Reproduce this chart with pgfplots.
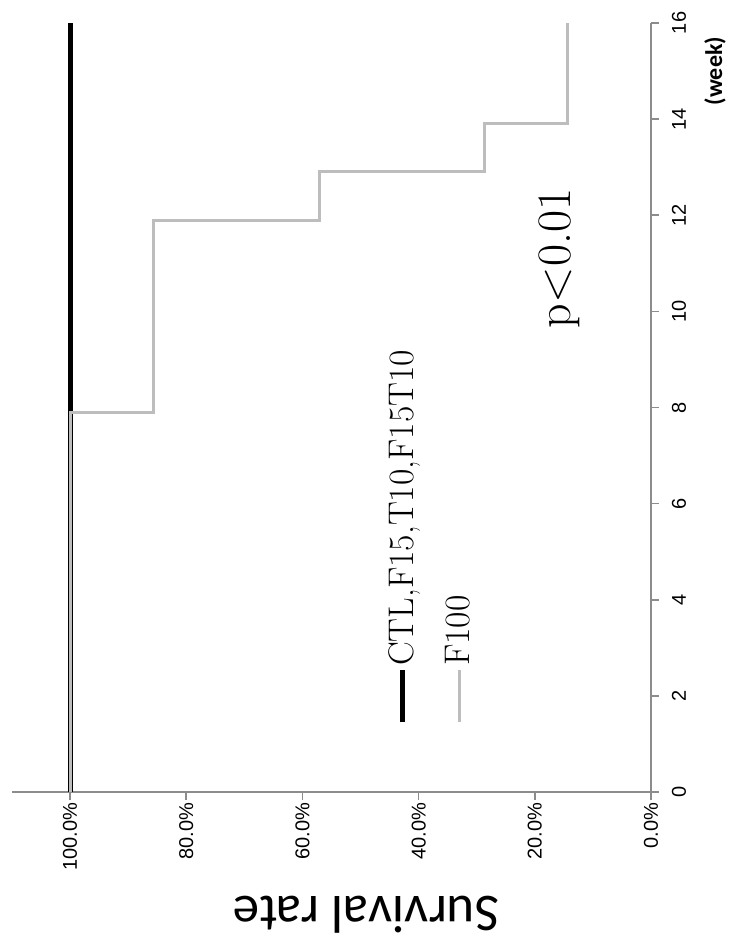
\documentclass[border=0pt]{standalone}
\usepackage{fontspec}
\usepackage{pgfplots}
\pgfplotsset{compat=1.18}
\newfontfamily\arialf{Liberation Sans}
\newfontfamily\calf{Carlito}
\definecolor{axisgray}{HTML}{8C8C8C}
\definecolor{fgray}{HTML}{BDBDBD}
\begin{document}
\begin{tikzpicture}
\begin{scope}[rotate=90, transform shape]
\useasboundingbox (-76.5pt,-40pt) rectangle (396pt,325.5pt);
\begin{axis}[
  at={(0,0)}, anchor=south west,
  scale only axis, width=384.5pt, height=319.5pt,
  xmin=0, xmax=16, ymin=0, ymax=110,
  axis lines=left,
  axis line style={-, draw=axisgray, line width=0.8pt},
  tick style={draw=axisgray, line width=0.8pt},
  tick align=outside, major tick length=4pt,
  xtick={0,2,...,16}, xticklabels={0,2,4,6,8,10,12,14,16},
  ytick={0,20,...,100}, yticklabels={0.0\%,20.0\%,40.0\%,60.0\%,80.0\%,100.0\%},
  ticklabel style={font=\arialf\fontsize{10pt}{12pt}\selectfont},
  xticklabel style={anchor=center, yshift=-10pt},
  yticklabel style={anchor=east, xshift=2pt},
  ylabel={Survival rate},
  ylabel style={font=\calf\fontsize{26.5pt}{30pt}\selectfont, at={(axis cs:0,49)}, anchor=center, yshift=61.5pt},
  clip=false,
  legend cell align=left,
  legend image code/.code={\draw[#1] (0pt,0pt) -- (26pt,0pt);},
  legend style={at={(axis cs:1.39,45.6)}, anchor=north west, draw=none, fill=none, inner sep=0pt,
    font=\fontsize{17.8pt}{21pt}\selectfont, row sep=12.5pt, nodes={inner sep=1pt}},
]
\addplot[black, line width=2.5pt, const plot] coordinates {(0,100) (16,100)};
\addlegendentry{CTL,F15,T10,F15T10}
\addplot[fgray, line width=1.5pt, const plot] coordinates {(0,100) (7.9,85.7) (11.9,57.1) (12.9,28.6) (13.9,14.3) (16,14.3)};
\addlegendentry{F100}
\node[font=\fontsize{24pt}{28pt}\selectfont] at (axis cs:11.1,15.7) {p<0.01};
\node[font=\calf\bfseries\fontsize{12pt}{14pt}\selectfont] at (axis cs:15,0) [yshift=-32pt] {(week)};
\end{axis}
\end{scope}
\end{tikzpicture}
\end{document}
